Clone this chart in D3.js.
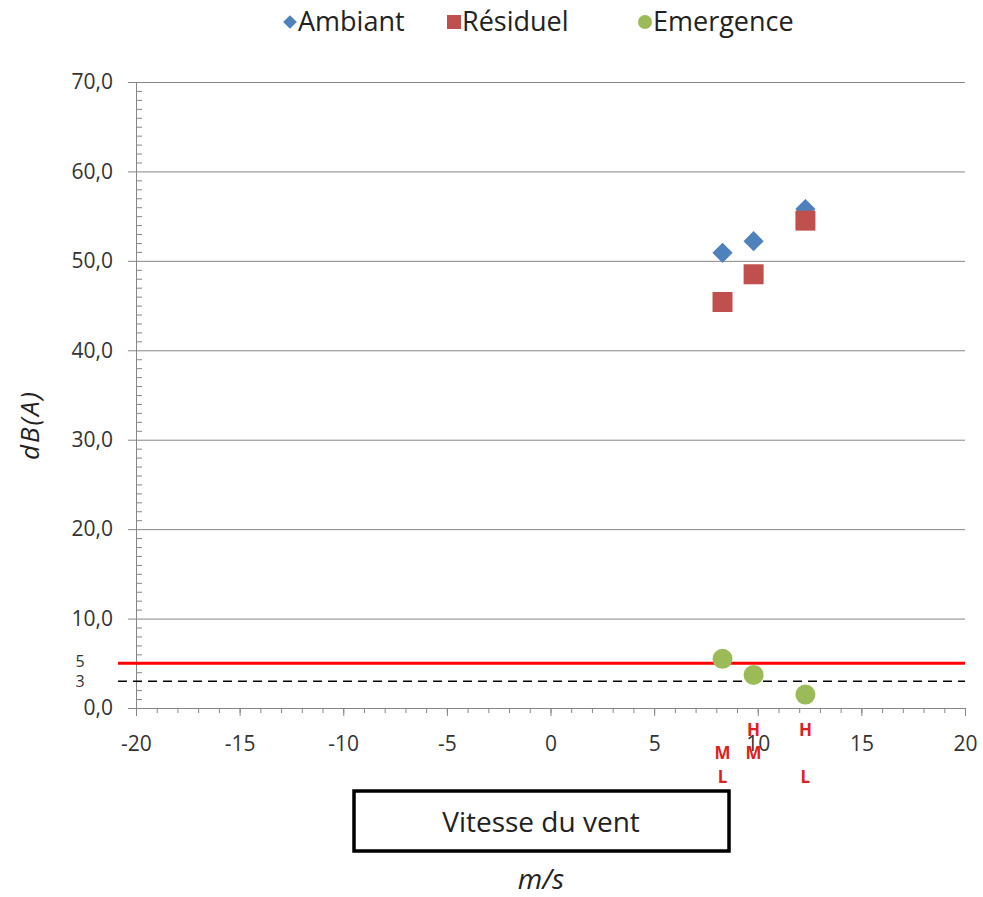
<!DOCTYPE html>
<html>
<head>
<meta charset="utf-8">
<script src="https://cdn.jsdelivr.net/npm/d3@7"></script>
<style>
  body { margin: 0; background: #fff; }
  svg text { font-family: "Open Sans", "Liberation Sans", sans-serif; }
  .tick line, .domain { stroke: #868686; }
</style>
</head>
<body>
<svg id="svg"></svg>
<script>
// values
const windSpeed = [8.3, 9.8, 12.3];
const ambiant = [50.9, 52.2, 55.8];
const residuel = [45.4, 48.5, 54.5];
const emergence = [5.5, 3.7, 1.5];
const limitSolid = 5;
const limitDashed = 3;
const classLetters = [["M", "L"], ["H", "M"], ["H", "L"]];
const letterRows = ["H", "M", "L"];
const xTicks = d3.range(-20, 21, 5);
const yTicks = d3.range(0, 71, 10);
const seriesNames = ["Ambiant", "Résiduel", "Emergence"];
const seriesColors = ["#4F81BD", "#C0504D", "#9BBB59"];

const width = 983;
const height = 897;

const svg = d3.select("#svg")
              .attr("width", width)
              .attr("height", height);

const x = d3.scaleLinear().domain([-20, 20]).range([136, 965]);
const y = d3.scaleLinear().domain([0, 70]).range([708, 82]);
const fmt = d => d3.format(".1f")(d).replace(".", ",");

// horizontal gridlines
svg.append("g")
   .attr("transform", "translate(" + x(-20) + ",0)")
   .call(d3.axisLeft(y).tickValues(yTicks).tickSize(-(x(20) - x(-20))).tickFormat(""))
   .call(g => g.select(".domain").remove());

// y minor ticks
svg.append("g")
   .attr("transform", "translate(" + x(-20) + ",0)")
   .call(d3.axisRight(y).tickValues(d3.range(0, 71, 1).filter(v => v % 10 !== 0)).tickSize(6).tickFormat(""))
   .call(g => g.select(".domain").remove());

// y axis
svg.append("g")
   .attr("transform", "translate(" + x(-20) + ",0)")
   .call(d3.axisLeft(y).tickValues(yTicks).tickSize(8).tickSizeOuter(0).tickPadding(15).tickFormat(fmt))
   .call(g => g.selectAll("text").style("font-size", "21px").attr("fill", "#333"));

// x minor ticks
svg.append("g")
   .attr("transform", "translate(0," + y(0) + ")")
   .call(d3.axisBottom(x).tickValues(d3.range(-20, 21, 1)).tickSize(5).tickFormat(""))
   .call(g => g.select(".domain").remove());

// x axis
svg.append("g")
   .attr("transform", "translate(0," + y(0) + ")")
   .call(d3.axisBottom(x).tickValues(xTicks).tickSize(8).tickSizeOuter(0).tickPadding(20).tickFormat(d => String(d)))
   .call(g => g.selectAll("text").style("font-size", "21px").attr("fill", "#333"));

// threshold lines
svg.append("line")
   .attr("x1", 118).attr("x2", x(20))
   .attr("y1", y(limitSolid)).attr("y2", y(limitSolid))
   .attr("stroke", "#FF0000").attr("stroke-width", 3);
svg.append("line")
   .attr("x1", 118).attr("x2", x(20))
   .attr("y1", y(limitDashed)).attr("y2", y(limitDashed))
   .attr("stroke", "#000").attr("stroke-width", 1.5)
   .attr("stroke-dasharray", "9,6");
svg.selectAll(".limitLabel")
   .data([limitSolid, limitDashed])
   .enter()
   .append("text")
   .attr("class", "limitLabel")
   .attr("x", 80)
   .attr("y", (d, i) => y(d) - (i === 0 ? 2 : 0))
   .attr("dy", "0.35em")
   .attr("text-anchor", "middle")
   .style("font-size", "16px")
   .attr("fill", "#333")
   .text(d => d);

// markers
const diamond = d3.symbol().type(d3.symbolDiamond2).size(260);
svg.selectAll(".amb")
   .data(windSpeed)
   .enter()
   .append("path")
   .attr("class", "amb")
   .attr("d", diamond)
   .attr("transform", (d, i) => "translate(" + x(d) + "," + y(ambiant[i]) + ")")
   .attr("fill", seriesColors[0]);

svg.selectAll(".res")
   .data(windSpeed)
   .enter()
   .append("rect")
   .attr("class", "res")
   .attr("x", d => x(d) - 10)
   .attr("y", (d, i) => y(residuel[i]) - 10)
   .attr("width", 20)
   .attr("height", 20)
   .attr("fill", seriesColors[1]);

svg.selectAll(".emg")
   .data(windSpeed)
   .enter()
   .append("circle")
   .attr("class", "emg")
   .attr("cx", d => x(d))
   .attr("cy", (d, i) => y(emergence[i]))
   .attr("r", 10)
   .attr("fill", seriesColors[2]);

// H / M / L class letters under the axis
windSpeed.forEach((w, i) => {
  svg.selectAll(".cls" + i)
     .data(classLetters[i])
     .enter()
     .append("text")
     .attr("x", x(w))
     .attr("y", d => 730 + letterRows.indexOf(d) * 23.5)
     .attr("dy", "0.35em")
     .attr("text-anchor", "middle")
     .style("font-size", "17px")
     .style("font-weight", "bold")
     .attr("fill", "#E02020")
     .text(d => d);
});

// legend
const legendX = [290, 454, 645];
const legend = svg.append("g");
legend.append("path")
      .attr("d", d3.symbol().type(d3.symbolDiamond2).size(120))
      .attr("transform", "translate(" + legendX[0] + ",22)")
      .attr("fill", seriesColors[0]);
legend.append("rect")
      .attr("x", legendX[1] - 7).attr("y", 15)
      .attr("width", 14).attr("height", 14)
      .attr("fill", seriesColors[1]);
legend.append("circle")
      .attr("cx", legendX[2]).attr("cy", 22).attr("r", 7)
      .attr("fill", seriesColors[2]);
legend.selectAll("text")
      .data(seriesNames)
      .enter()
      .append("text")
      .attr("x", (d, i) => legendX[i] + 8)
      .attr("y", 22)
      .attr("dy", "0.35em")
      .style("font-size", "27px")
      .attr("fill", "#222")
      .text(d => d);

// y title
svg.append("text")
   .attr("transform", "translate(30,425) rotate(-90)")
   .attr("dy", "0.35em")
   .attr("text-anchor", "middle")
   .style("font-size", "26px")
   .style("font-style", "italic")
   .style("letter-spacing", "2px")
   .attr("fill", "#222")
   .text("dB(A)");

// x title box
svg.append("rect")
   .attr("x", 354).attr("y", 791)
   .attr("width", 375).attr("height", 60)
   .attr("fill", "none")
   .attr("stroke", "#000")
   .attr("stroke-width", 3.5);
svg.append("text")
   .attr("x", 541).attr("y", 822)
   .attr("dy", "0.35em")
   .attr("text-anchor", "middle")
   .style("font-size", "28px")
   .attr("fill", "#222")
   .text("Vitesse du vent");
svg.append("text")
   .attr("x", 541).attr("y", 879)
   .attr("dy", "0.35em")
   .attr("text-anchor", "middle")
   .style("font-size", "28px")
   .style("font-style", "italic")
   .attr("fill", "#222")
   .text("m/s");
</script>
</body>
</html>
